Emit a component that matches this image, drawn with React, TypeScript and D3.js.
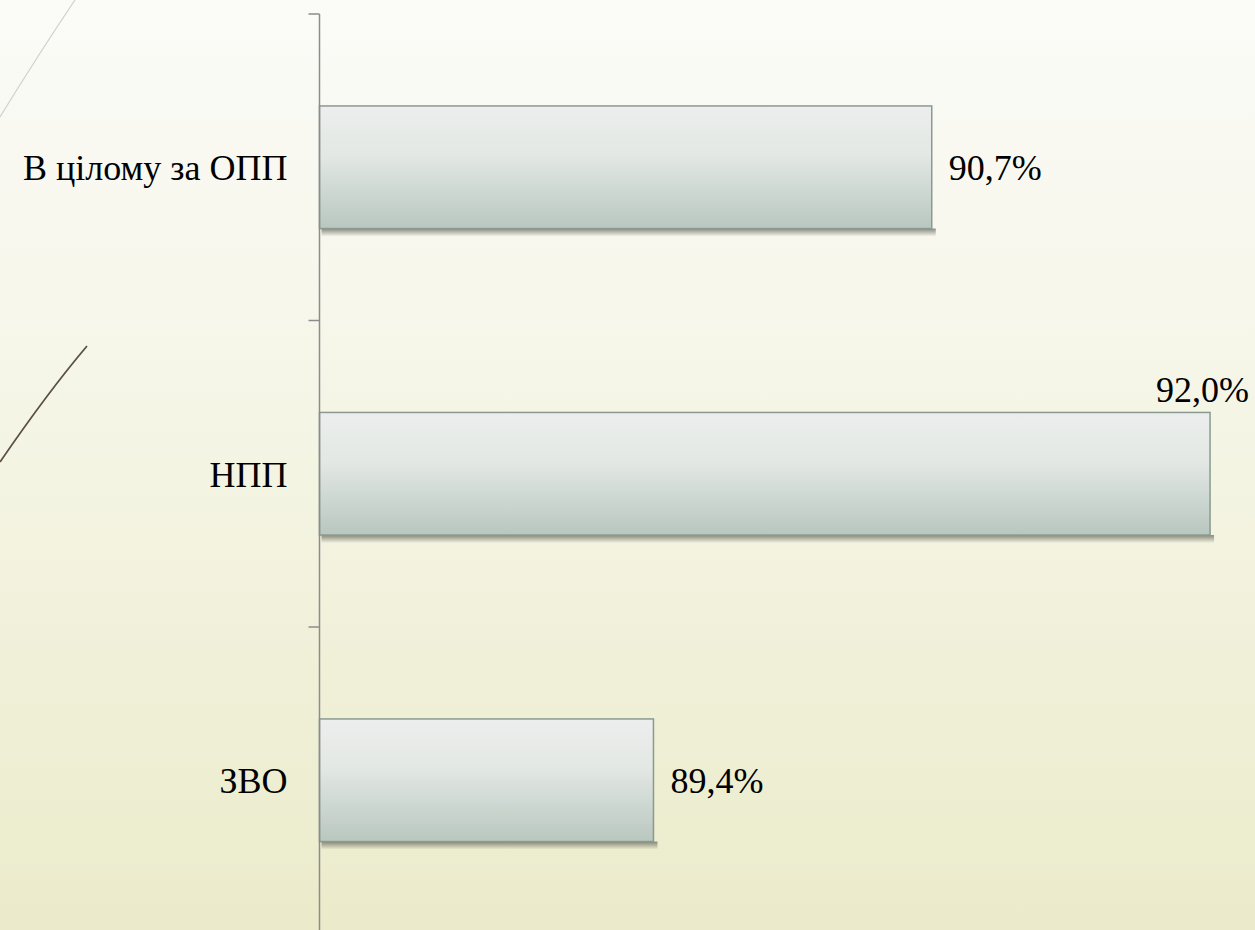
import * as d3 from "d3";

const categories = ["В цілому за ОПП", "НПП", "ЗВО"];
const values = [90.7, 92.0, 89.4];
const xDomain = [87.84, 92.21];

const locale = d3.formatLocale({
  decimal: ",",
  thousands: " ",
  grouping: [3],
  currency: ["", ""],
});
const fmt = (v: number) => locale.format(".1f")(v) + "%";

const width = 1255;
const height = 930;
const margin = { top: 14, right: 0, bottom: -3.5, left: 319.5 };
const fontSize = 36;

export default function App() {
  const x = d3.scaleLinear().domain(xDomain).range([margin.left, width - margin.right]);

  const yOuter = d3
    .scaleBand()
    .domain(categories)
    .range([margin.top, height - margin.bottom]);

  const y = d3
    .scaleBand()
    .domain(categories)
    .range([margin.top, height - margin.bottom])
    .paddingInner(0.6)
    .paddingOuter(0.3);

  const data = categories.map((c, i) => ({ cat: c, value: values[i] }));
  const tickYs = categories.map((c) => yOuter(c) || 0).concat([yOuter.range()[1]]);

  return (
    <svg width={width} height={height} style={{ position: "absolute", left: 0, top: 0 }}>
      <defs>
        <linearGradient id="bg" x1="0" y1="0" x2="0" y2="1">
          <stop offset="0%" stopColor="#fbfbf8" />
          <stop offset="45%" stopColor="#f5f5e6" />
          <stop offset="100%" stopColor="#ebebcb" />
        </linearGradient>
        <linearGradient id="bar" x1="0" y1="0" x2="0" y2="1">
          <stop offset="0%" stopColor="#eceeed" />
          <stop offset="40%" stopColor="#e3e8e4" />
          <stop offset="100%" stopColor="#b8c7bf" />
        </linearGradient>
        <linearGradient id="shade" x1="0" y1="0" x2="0" y2="1">
          <stop offset="0%" stopColor="#5a5a50" stopOpacity={0.7} />
          <stop offset="100%" stopColor="#5a5a50" stopOpacity={0} />
        </linearGradient>
      </defs>

      <rect width={width} height={height} fill="url(#bg)" />

      {/* decorative strokes */}
      <path d="M75,0 Q40,52 0,117" fill="none" stroke="#d2d2ca" strokeWidth={1.2} />
      <path d="M87,346 Q48,392 0,462" fill="none" stroke="#5a5046" strokeWidth={1.8} />

      {/* soft shadow under each bar */}
      {data.map((d) => (
        <rect
          key={"s" + d.cat}
          x={x(xDomain[0]) + 2}
          y={(y(d.cat) || 0) + y.bandwidth()}
          width={x(d.value) - x(xDomain[0]) + 2}
          height={8}
          fill="url(#shade)"
        />
      ))}

      {data.map((d) => (
        <rect
          key={d.cat}
          x={x(xDomain[0])}
          y={y(d.cat) || 0}
          width={x(d.value) - x(xDomain[0])}
          height={y.bandwidth()}
          fill="url(#bar)"
          stroke="#8a9a90"
          strokeWidth={1.5}
        />
      ))}

      <g stroke="#8c8c8c" strokeWidth={1.5}>
        <line x1={margin.left} x2={margin.left} y1={margin.top} y2={height} />
        {tickYs.map((t) => (
          <line key={t} x1={margin.left - 11} x2={margin.left} y1={t} y2={t} />
        ))}
      </g>

      {data.map((d) => (
        <text
          key={"c" + d.cat}
          x={margin.left - 32}
          y={(y(d.cat) || 0) + y.bandwidth() / 2 + 13}
          textAnchor="end"
          fontSize={fontSize}
          style={{ fontFamily: "'Liberation Serif'" }}
        >
          {d.cat}
        </text>
      ))}

      {data.map((d) => {
        const label = fmt(d.value);
        const end = x(d.value);
        const top = y(d.cat) || 0;
        const estW = label.length * 0.52 * fontSize;
        const above = end + 17 + estW > width - 4;
        return (
          <text
            key={"v" + d.cat}
            x={above ? width - 6 : end + 17}
            y={above ? top - 10 : top + y.bandwidth() / 2 + 13}
            textAnchor={above ? "end" : "start"}
            fontSize={fontSize}
            style={{ fontFamily: "'Liberation Serif'" }}
          >
            {label}
          </text>
        );
      })}
    </svg>
  );
}
